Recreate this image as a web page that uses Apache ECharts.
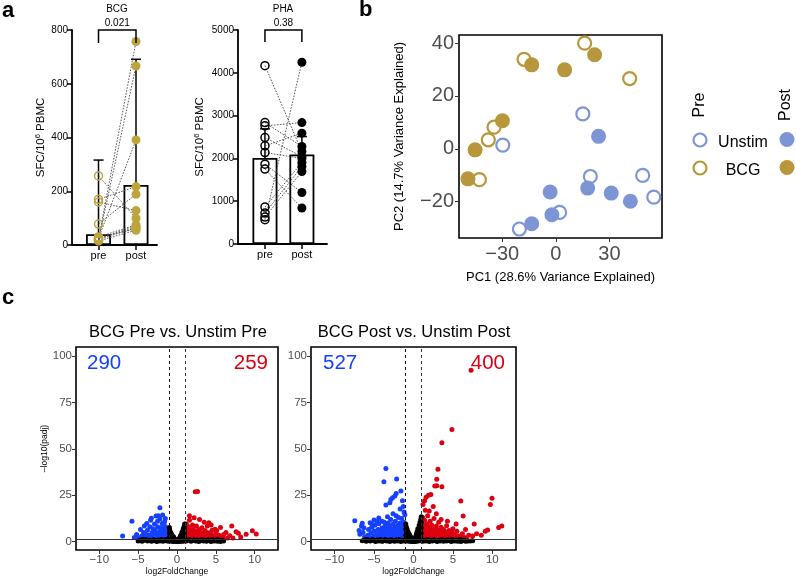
<!DOCTYPE html>
<html><head><meta charset="utf-8">
<script src="https://cdn.jsdelivr.net/npm/echarts@6/dist/echarts.min.js"></script>
<style>html,body{margin:0;padding:0;background:#fff}#c{width:796px;height:580px}</style>
</head><body><div id="c"></div><script>
// ---------- Panel a ----------
const groupsA = ['pre', 'post'];
const bcgPre  = [22, 18, 25, 257, 170, 160, 78, 20, 30, 15, 28, 24];
const bcgPost = [757, 666, 391, 100, 217, 128, 189, 65, 75, 55, 60, 70];
const bcgBar = [40, 223];
const bcgErr = [316, 691];
const bcgP = '0.021';
const phaPre  = [4166, 2837, 2760, 2487, 2293, 2137, 1866, 1750, 863, 723, 630, 567];
const phaPost = [2160, 2277, 2837, 2043, 2590, 2000, 1203, 840, 1903, 1810, 1693, 4246];
const phaBar = [2010, 2090];
const phaErr = [2690, 2510];
const phaP = '0.38';
// ---------- Panel b (PCA) ----------
const pcaXTicks = [-30, 0, 30];
const pcaYTicks = [-20, 0, 20, 40];
const unstimPre  = [[15.1,13.2],[-29.7,1.4],[19.3,-10.5],[48.6,-10.1],[54.8,-18.3],[2.1,-24.1],[-20.4,-30.4]];
const unstimPost = [[23.9,4.7],[-3.2,-16.4],[17.8,-14.9],[31.0,-16.8],[41.7,-19.9],[-2.2,-25.0],[-13.5,-28.4]];
const bcgPrePC   = [[-17.8,33.9],[16.1,40.0],[41.3,26.6],[-34.6,8.2],[-37.8,3.4],[-42.8,-11.7]];
const bcgPostPC  = [[-13.5,31.8],[4.9,29.9],[21.7,35.6],[-29.9,10.6],[-45.2,-0.4],[-49.2,-11.4]];
// ---------- Panel c (volcano) ----------
const volXTicks = [-10, -5, 0, 5, 10];
const volYTicks = [0, 25, 50, 75, 100];
const volTitles = ['BCG Pre vs. Unstim Pre', 'BCG Post vs. Unstim Post'];
const volDown = [290, 527];
const volUp = [259, 400];
const vol1Blue = [[-7.0,3.1],[-5.8,11],[-4.6,2.5],[-4.2,8.5],[-3.3,12.6],[-2.7,13.8],[-1.85,14.4],[-2.2,18.3],[-2.4,14],[-1.5,12.5],[-5.5,2.2],[-5.2,3.8],
 [-4.8,1.6],[-4.5,3.2],[-4.3,5],[-4.0,2],[-4.0,4],[-3.8,6.2],[-3.7,1.7],[-3.6,3.5],[-3.5,8],[-3.3,2.5],[-3.2,5],[-3.1,7],[-3.0,1.8],[-3.0,3.6],[-2.9,9.5],[-2.8,6],[-2.7,2.4],[-2.6,4.5],[-2.5,8],[-2.5,11],[-2.4,1.7],[-2.3,3.3],[-2.2,5.8],[-2.1,7.5],[-2.0,2.2],[-2.0,4.2],[-1.9,9.8],[-1.8,6.5],[-1.7,1.6],[-1.7,3.2],[-1.6,5],[-1.5,8.2],[-1.4,2.4],[-1.4,4],[-1.3,6.2],[-1.2,1.8],[-1.2,3],[-1.1,5],[-3.9,9.8],[-3.4,11.5],[-2.2,12.2],[-1.6,10.8],[-4.7,6.5],[-5.0,1.8],[-4.2,1.5]];
const vol1Red = [[2.35,26.9],[2.65,27.1],[1.6,14],[2.2,12.9],[4.1,10.2],[5.6,7.7],[7.05,8.5],[9.7,5.9],[10.2,4.1],[8.9,4.0],[7.6,5.4],[7.9,4.6],[6.3,4.9],[4.9,6.7],[6.8,3.2],[8.2,2.5],[5.9,2.4],[7.2,2.0],
 [1.1,2],[1.1,4.5],[1.2,7],[1.2,9.5],[1.3,3],[1.4,5.5],[1.5,1.6],[1.5,8],[1.6,11.5],[1.7,3.8],[1.8,6.2],[1.9,2.2],[2.0,4.5],[2.0,9],[2.1,7],[2.2,1.8],[2.3,3.5],[2.4,5.5],[2.5,8.5],[2.6,2.4],[2.7,4.2],[2.8,6.5],[2.9,1.7],[3.0,3.2],[3.1,5],[3.2,7.5],[3.3,2.2],[3.4,4],[3.6,6],[3.7,1.8],[3.8,3],[3.9,8.5],[4.0,4.8],[4.2,2.3],[4.4,3.8],[4.5,6.2],[4.6,1.7],[4.8,3],[5.0,4.5],[5.2,2],[5.4,3.4],[5.7,1.8],[3.5,10.5],[2.9,12],[4.4,9],[5.1,6],[6.0,3.8],[6.5,2]];
const vol1Black = [[-0.95,6.5],[-0.95,4.5],[-0.95,2.5],[-0.9,5.5],[-0.85,3.5],[-0.8,1.5],[-0.8,4.8],[-0.75,2.8],[-0.7,4],[-0.65,1.8],[-0.6,3.2],[-0.55,2.2],[-0.5,1],[-0.45,2.6],[-0.4,1.6],[-0.35,0.8],[-0.3,1.6],[-0.25,0.6],[-0.2,1],[-0.15,0.4],[-0.1,0.3],[-0.98,7.6],
 [0.98,9.5],[0.98,7],[0.98,4.5],[0.95,2.5],[0.9,8],[0.9,5.8],[0.85,3.5],[0.8,6.8],[0.8,1.5],[0.75,5],[0.7,3],[0.65,5.2],[0.6,2],[0.55,3.8],[0.5,1.2],[0.45,3],[0.4,2],[0.35,1],[0.3,1.8],[0.25,0.6],[0.2,1],[0.15,0.4],[0.1,0.3],
 [-5.0,0.4],[-4.7,0.9],[-4.5,0.2],[-4.2,0.7],[-4.0,1.1],[-3.8,0.3],[-3.5,0.8],[-3.3,0.2],[-3.0,1.0],[-2.8,0.5],[-2.6,0.1],[-2.4,0.9],[-2.2,0.4],[-2.0,1.1],[-1.8,0.2],[-1.6,0.7],[-1.4,1.1],[-1.3,0.3],[-1.1,0.8],[-1.0,0.2],[-0.9,0.9],[-0.7,0.3],[-0.5,0.1],[-0.3,0.2],[0,0.05],[0.3,0.15],[0.5,0.3],[0.7,0.2],[0.9,0.4],[1.0,1.0],[1.2,0.3],[1.4,0.8],[1.6,1.1],[1.8,0.2],[2.0,0.6],[2.2,1.0],[2.4,0.3],[2.6,0.8],[2.8,0.1],[3.0,0.5],[3.2,1.1],[3.4,0.3],[3.6,0.8],[3.8,0.2],[4.0,1.0],[4.2,0.5],[4.4,0.1],[4.6,0.8],[4.8,0.3],[5.0,0.9],[5.2,0.2],[5.4,0.6],[5.6,0.1],[5.8,0.7],[6.0,0.3],[5.3,1.1],[4.5,1.2],[-4.4,1.2],[-3.1,0.5],[-1.9,0.6]];
const vol2Blue = [[-3.5,39.5],[-3.75,32.3],[-2.14,33.8],[-1.6,27.3],[-2.36,24.6],[-2.65,23.7],[-2.87,22.8],[-1.4,22.1],[-3.5,19.8],[-3.0,21],[-1.7,17.6],[-7.45,11.3],[-6.5,9.9],[-6.6,8.5],[-5.5,10.2],[-5.0,11.7],[-4.4,12.8],[-3.3,13.5],[-6.4,5],[-6.2,2.7],[-2.2,26],[-1.3,19],
 [-6.0,1.8],[-5.8,3.5],[-5.7,6.5],[-5.5,2.2],[-5.4,4.8],[-5.3,7.8],[-5.1,1.6],[-5.0,3.2],[-5.0,5.8],[-4.9,8.8],[-4.7,2.5],[-4.6,4.2],[-4.5,6.5],[-4.4,9.6],[-4.3,1.8],[-4.2,3.3],[-4.1,5.2],[-4.0,7.4],[-4.0,11],[-3.9,2.4],[-3.8,4.1],[-3.7,6],[-3.6,8.4],[-3.6,1.6],[-3.5,3],[-3.4,5],[-3.3,7],[-3.2,10],[-3.2,2.2],[-3.1,3.8],[-3.0,5.8],[-3.0,8.5],[-2.9,12],[-2.9,1.7],[-2.8,3.1],[-2.7,4.6],[-2.7,6.8],[-2.6,9.4],[-2.6,15],[-2.5,2.3],[-2.4,3.8],[-2.4,5.5],[-2.3,7.6],[-2.3,11],[-2.2,1.6],[-2.1,3],[-2.1,4.6],[-2.0,6.4],[-2.0,8.8],[-1.9,13],[-1.9,2.2],[-1.8,3.7],[-1.8,5.3],[-1.7,7.2],[-1.7,10],[-1.6,1.7],[-1.6,3],[-1.5,4.5],[-1.5,6.3],[-1.5,12.5],[-1.4,8.5],[-1.3,2.3],[-1.3,3.8],[-1.3,5.6],[-1.2,7.5],[-1.2,10.5],[-1.15,1.6],[-1.1,3],[-1.1,4.6],[-1.1,14.5],[-1.2,16],[-2.2,14],[-3.7,10.5],[-4.6,11],[-5.2,9.2],[-6.8,4],[-6.9,6],[-6.3,7.5]];
const vol2Red = [[7.3,92.5],[4.87,60.5],[3.6,53.3],[3.1,39],[2.95,33.6],[2.7,30],[2.95,30.2],[3.6,29.6],[6.0,21.9],[6.3,13.8],[9.96,23.4],[9.75,20.1],[7.7,9.5],[9.4,6.3],[10.8,7.7],[11.2,8.4],[1.9,25],[2.2,25.5],[1.6,23.9],[1.4,22],[1.2,20],[2.5,19],[1.5,17],[8.6,3.5],[8.0,4.2],[7.5,3],[9.1,5.6],
 [1.05,2],[1.05,4.5],[1.1,7],[1.1,10],[1.15,13],[1.2,3.2],[1.3,5.6],[1.3,1.6],[1.4,8.4],[1.4,11.5],[1.5,2.6],[1.5,4.2],[1.6,6.5],[1.7,1.8],[1.7,9.5],[1.8,3.4],[1.8,14],[1.9,5.2],[2.0,7.6],[2.0,2.2],[2.1,11],[2.2,3.8],[2.2,6],[2.3,1.6],[2.3,9],[2.4,4.8],[2.5,2.8],[2.5,7.2],[2.6,12.5],[2.7,1.9],[2.7,5.5],[2.8,3.6],[2.9,8.4],[3.0,2.4],[3.0,6.4],[3.1,4.4],[3.2,10.5],[3.3,1.7],[3.3,3.2],[3.4,5.6],[3.5,7.8],[3.6,2.5],[3.7,4.3],[3.8,6.6],[3.9,1.8],[4.0,3.5],[4.1,5.2],[4.2,8.6],[4.3,2.4],[4.4,4],[4.5,6],[4.6,1.7],[4.8,3],[4.9,4.8],[5.0,7],[5.2,2.2],[5.3,3.8],[5.5,5.6],[5.6,1.8],[5.8,3],[6.0,2],[6.2,4.2],[6.4,2.4],[6.7,1.8],[7.0,3.4],[3.5,12],[4.3,11],[2.0,16.5],[5.4,9.5],[6.6,6.5],[2.9,15]];
const vol2Black = [[-0.98,9.5],[-0.98,6.5],[-0.98,3.5],[-0.92,8],[-0.9,5],[-0.88,2.2],[-0.82,6.8],[-0.8,4],[-0.75,1.5],[-0.72,5.5],[-0.68,3],[-0.62,4.5],[-0.58,1.8],[-0.52,3.8],[-0.48,2.6],[-0.42,1.2],[-0.38,2.8],[-0.32,1.8],[-0.28,0.8],[-0.22,1.5],[-0.18,0.6],[-0.12,0.8],[-0.08,0.3],
 [0.98,13.5],[0.98,10.5],[0.98,7.5],[0.98,4.5],[0.95,2],[0.92,12],[0.9,9],[0.88,6],[0.85,3.5],[0.82,10.5],[0.8,7.5],[0.78,1.5],[0.75,5],[0.72,8.8],[0.68,3],[0.65,6.8],[0.6,4.8],[0.58,1.8],[0.55,7],[0.5,3.6],[0.46,5.5],[0.42,2.2],[0.38,4.2],[0.34,1.2],[0.3,3],[0.26,2],[0.22,1],[0.18,1.8],[0.14,0.8],[0.1,0.5],[0.06,0.2],
 [-6.5,0.5],[-6.2,1.0],[-6.0,0.2],[-5.7,0.8],[-5.5,0.3],[-5.2,1.1],[-5.0,0.5],[-4.8,0.1],[-4.6,0.9],[-4.4,0.4],[-4.2,1.2],[-4.0,0.2],[-3.8,0.7],[-3.6,1.1],[-3.4,0.3],[-3.2,0.8],[-3.0,0.1],[-2.8,1.0],[-2.6,0.5],[-2.4,0.2],[-2.2,0.9],[-2.0,0.4],[-1.8,1.2],[-1.6,0.1],[-1.4,0.7],[-1.2,0.3],[-1.0,1.0],[-0.9,0.4],[-0.6,0.2],[-0.3,0.1],[0,0.05],[0.3,0.1],[0.6,0.3],[0.9,0.5],[1.0,1.1],[1.2,0.2],[1.4,0.8],[1.6,0.4],[1.8,1.2],[2.0,0.1],[2.2,0.7],[2.4,0.3],[2.6,1.0],[2.8,0.5],[3.0,0.1],[3.2,0.8],[3.4,0.4],[3.6,1.1],[3.8,0.2],[4.0,0.7],[4.2,0.3],[4.4,1.0],[4.6,0.5],[4.8,0.1],[5.0,0.8],[5.2,0.3],[5.4,0.9],[5.6,0.2],[5.8,0.6],[6.0,0.1],[6.2,0.5],[6.4,0.9],[6.6,0.2],[6.9,0.4],[7.2,0.3],[7.5,0.5],[5.9,1.1],[4.9,1.2],[-5.9,1.2],[-3.9,0.4],[-2.1,0.7]];
const padjCut = 1.3;
const fcCut = 1;

// ---------- styles ----------
const FONT = '"Liberation Sans", Arial, Helvetica, sans-serif';
const GOLD_A = '#BDA53C';
const GOLD_B = '#B8963B';
const BLUE_B = '#7D95D5';
const BLUE_C = '#1540FF';
const RED_C = '#DD0010';
const minus = v => (v < 0 ? '\u2212' + Math.abs(v) : String(v));

const chart = echarts.init(document.getElementById('c'), null, {renderer: 'canvas'});

function aXAxis(gi, min, max) {
  return {gridIndex: gi, type: 'value', min: min, max: max, splitLine: {show: false},
    axisLine: {show: true, onZero: false, lineStyle: {color: '#000', width: 1.8}},
    axisTick: {show: true, customValues: [0, 1], length: 5, lineStyle: {color: '#000', width: 1.5}},
    axisLabel: {show: true, customValues: [0, 1], formatter: v => groupsA[Math.round(v)], color: '#000', fontSize: 11, fontFamily: FONT, margin: 5}};
}
function aYAxis(gi, max, interval, gap) {
  return {gridIndex: gi, type: 'value', min: 0, max: max, interval: interval, splitLine: {show: false},
    axisLine: {show: true, onZero: false, lineStyle: {color: '#000', width: 1.8}},
    axisTick: {show: true, length: 5, lineStyle: {color: '#000', width: 1.5}},
    axisLabel: {color: '#000', fontSize: 10, fontFamily: FONT, margin: 4, formatter: v => String(v)},
    name: '{n|SFC/10}{s|6}{n| PBMC}', nameLocation: 'middle', nameGap: gap,
    nameTextStyle: {rich: {n: {fontSize: 11.5, fontFamily: FONT, color: '#000'}, s: {fontSize: 7.5, fontFamily: FONT, color: '#000', verticalAlign: 'top', padding: [0, 0, 6, 0]}}}};
}
function aSeries(gi, pre, post, bar, err, color, pTop, pEnd, pText) {
  return [
    {type: 'bar', xAxisIndex: gi, yAxisIndex: gi, barWidth: 25, data: [[0, bar[0]], [1, bar[1]]],
      itemStyle: {color: 'rgba(255,255,255,0)', borderColor: '#000', borderWidth: 1.8}, z: 1, silent: true},
    {type: 'custom', xAxisIndex: gi, yAxisIndex: gi, z: 2, silent: true,
      data: [[0, bar[0], err[0]], [1, bar[1], err[1]]], encode: {x: 0, y: [1, 2]},
      renderItem: (p, api) => {
        const b = api.coord([api.value(0), api.value(1)]);
        const t = api.coord([api.value(0), api.value(2)]);
        return {type: 'group', children: [
          {type: 'line', shape: {x1: b[0], y1: b[1], x2: t[0], y2: t[1]}, style: {stroke: '#000', lineWidth: 1.5}},
          {type: 'line', shape: {x1: t[0] - 5, y1: t[1], x2: t[0] + 5, y2: t[1]}, style: {stroke: '#000', lineWidth: 1.5}}]};
      }},
    {type: 'custom', xAxisIndex: gi, yAxisIndex: gi, z: 3, silent: true,
      data: pre.map((v, i) => [0, v, 1, post[i]]), encode: {x: [0, 2], y: [1, 3]},
      renderItem: (p, api) => {
        const a = api.coord([api.value(0), api.value(1)]);
        const b = api.coord([api.value(2), api.value(3)]);
        return {type: 'line', shape: {x1: a[0], y1: a[1], x2: b[0], y2: b[1]}, style: {stroke: '#444', lineWidth: 0.9, lineDash: [1.6, 1.4]}};
      }},
    {type: 'scatter', xAxisIndex: gi, yAxisIndex: gi, z: 4, silent: true, symbol: 'circle', symbolSize: 8,
      data: pre.map(v => [0, v]), itemStyle: {color: 'rgba(255,255,255,0)', borderColor: color, borderWidth: 1.5, opacity: 1}},
    {type: 'scatter', xAxisIndex: gi, yAxisIndex: gi, z: 4, silent: true, symbol: 'circle', symbolSize: 9,
      data: post.map(v => [1, v]), itemStyle: {color: color, opacity: 1}},
    {type: 'custom', xAxisIndex: gi, yAxisIndex: gi, z: 5, silent: true, clip: false,
      data: [[0, 1, pTop, pEnd]], encode: {x: [0, 1], y: [2, 3]},
      renderItem: (p, api) => {
        const a = api.coord([api.value(0), api.value(3)]);
        const b = api.coord([api.value(0), api.value(2)]);
        const c = api.coord([api.value(1), api.value(2)]);
        const d = api.coord([api.value(1), api.value(3)]);
        return {type: 'group', children: [
          {type: 'polyline', shape: {points: [a, b, c, d]}, style: {stroke: '#000', lineWidth: 1.5, fill: null}},
          {type: 'text', x: (b[0] + c[0]) / 2, y: b[1] - 7, style: {text: pText, fill: '#000', font: '10px ' + FONT, align: 'center', verticalAlign: 'middle'}}]};
      }}
  ];
}

function boxAxis(gi, min, max, ticks, fs, name, gap, nfs, margin) {
  return {gridIndex: gi, type: 'value', min: min, max: max, splitLine: {show: false},
    axisLine: {show: false, onZero: false}, axisTick: {show: true, customValues: ticks, length: 4, lineStyle: {color: '#333', width: 1}},
    axisLabel: {show: true, customValues: ticks, formatter: minus, color: '#4D4D4D', fontSize: fs, fontFamily: FONT, margin: margin},
    name: name, nameLocation: 'middle', nameGap: gap, nameTextStyle: {color: '#000', fontSize: nfs, fontFamily: FONT}};
}
function volSeries(gi, blue, red, black) {
  const base = {type: 'scatter', xAxisIndex: gi, yAxisIndex: gi, symbol: 'circle', symbolSize: 5, silent: true};
  return [
    Object.assign({}, base, {data: blue, itemStyle: {color: BLUE_C, opacity: 1}, z: 2}),
    Object.assign({}, base, {data: red, itemStyle: {color: RED_C, opacity: 1}, z: 2}),
    Object.assign({}, base, {data: black, itemStyle: {color: '#000', opacity: 1}, z: 3,
      markLine: {silent: true, symbol: 'none', label: {show: false}, animation: false,
        data: [{yAxis: padjCut, lineStyle: {color: '#333', width: 1, type: 'solid'}},
               {xAxis: -fcCut, lineStyle: {color: '#111', width: 1, type: [3, 3]}},
               {xAxis: fcCut, lineStyle: {color: '#333', width: 1, type: [3, 3]}}]}})
  ];
}
function pcaSeries(data, color, open) {
  return {type: 'scatter', xAxisIndex: 2, yAxisIndex: 2, symbol: 'circle', silent: true,
    symbolSize: open ? 13 : 15, data: data,
    itemStyle: open ? {color: 'rgba(255,255,255,0)', borderColor: color, borderWidth: 2.2, opacity: 1} : {color: color, opacity: 1}, z: 3};
}

const boxGrid = {show: true, borderColor: '#000', borderWidth: 1.6, backgroundColor: 'rgba(0,0,0,0)'};
const option = {
  animation: false,
  backgroundColor: '#fff',
  textStyle: {fontFamily: FONT},
  grid: [
    {left: 72, top: 30, width: 85, height: 215},
    {left: 238, top: 30, width: 89, height: 214},
    Object.assign({left: 459, top: 35, width: 203, height: 203}, boxGrid),
    Object.assign({left: 76, top: 347, width: 202, height: 203}, boxGrid),
    Object.assign({left: 311, top: 347, width: 205, height: 203}, boxGrid)
  ],
  xAxis: [
    aXAxis(0, -0.707, 1.56),
    aXAxis(1, -0.73, 1.68),
    boxAxis(2, -54.2, 59.4, pcaXTicks, 20, 'PC1 (28.6% Variance Explained)', 33, 13, 6),
    boxAxis(3, -13, 13, volXTicks, 11.5, 'log2FoldChange', 16, 8.5, 4),
    boxAxis(4, -13, 13, volXTicks, 11.5, 'log2FoldChange', 16, 8.5, 4)
  ],
  yAxis: [
    aYAxis(0, 800, 200, 24),
    aYAxis(1, 5000, 1000, 31),
    boxAxis(2, -33.8, 43.1, pcaYTicks, 20, 'PC2 (14.7% Variance Explained)', 53, 13, 5),
    boxAxis(3, -4.5, 105, volYTicks, 11.5, '\u2013log10(padj)', 24, 8.5, 4),
    boxAxis(4, -4.5, 105, volYTicks, 11.5, '', 24, 8.5, 4)
  ],
  series: [].concat(
    aSeries(0, bcgPre, bcgPost, bcgBar, bcgErr, GOLD_A, 800, 752, bcgP),
    aSeries(1, phaPre, phaPost, phaBar, phaErr, '#000', 5000, 4720, phaP),
    [pcaSeries(unstimPre, BLUE_B, true), pcaSeries(unstimPost, BLUE_B, false),
     pcaSeries(bcgPrePC, GOLD_B, true), pcaSeries(bcgPostPC, GOLD_B, false)],
    volSeries(3, vol1Blue, vol1Red, vol1Black),
    volSeries(4, vol2Blue, vol2Red, vol2Black)
  ),
  graphic: [
    {type: 'text', x: 2, y: 11, style: {text: 'a', font: 'bold 22px ' + FONT, fill: '#000', verticalAlign: 'middle'}},
    {type: 'text', x: 359, y: 10, style: {text: 'b', font: 'bold 22px ' + FONT, fill: '#000', verticalAlign: 'middle'}},
    {type: 'text', x: 2, y: 298, style: {text: 'c', font: 'bold 22px ' + FONT, fill: '#000', verticalAlign: 'middle'}},
    {type: 'text', x: 117, y: 9, style: {text: 'BCG', font: '10px ' + FONT, fill: '#000', align: 'center', verticalAlign: 'middle'}},
    {type: 'text', x: 283, y: 9, style: {text: 'PHA', font: '10px ' + FONT, fill: '#000', align: 'center', verticalAlign: 'middle'}},
    // PCA legend
    {type: 'text', x: 700, y: 105, rotation: Math.PI / 2, style: {text: 'Pre', font: '16px ' + FONT, fill: '#000', align: 'center', verticalAlign: 'middle'}},
    {type: 'text', x: 786, y: 105, rotation: Math.PI / 2, style: {text: 'Post', font: '16px ' + FONT, fill: '#000', align: 'center', verticalAlign: 'middle'}},
    {type: 'circle', shape: {cx: 700, cy: 140, r: 6.5}, style: {fill: 'none', stroke: BLUE_B, lineWidth: 2.2}},
    {type: 'circle', shape: {cx: 700, cy: 168, r: 6.5}, style: {fill: 'none', stroke: GOLD_B, lineWidth: 2.2}},
    {type: 'circle', shape: {cx: 787, cy: 139.5, r: 7.5}, style: {fill: BLUE_B}},
    {type: 'circle', shape: {cx: 787, cy: 167.5, r: 7.5}, style: {fill: GOLD_B}},
    {type: 'text', x: 743, y: 143, style: {text: 'Unstim', font: '16px ' + FONT, fill: '#000', align: 'center', verticalAlign: 'middle'}},
    {type: 'text', x: 743, y: 171, style: {text: 'BCG', font: '16px ' + FONT, fill: '#000', align: 'center', verticalAlign: 'middle'}},
    // volcano titles and counts
    {type: 'text', x: 178, y: 332, style: {text: volTitles[0], font: '16.5px ' + FONT, fill: '#000', align: 'center', verticalAlign: 'middle'}},
    {type: 'text', x: 414, y: 332, style: {text: volTitles[1], font: '16.5px ' + FONT, fill: '#000', align: 'center', verticalAlign: 'middle'}},
    {type: 'text', x: 87, y: 363, style: {text: String(volDown[0]), font: '20.5px ' + FONT, fill: BLUE_C, align: 'left', verticalAlign: 'middle'}},
    {type: 'text', x: 268, y: 363, style: {text: String(volUp[0]), font: '20.5px ' + FONT, fill: RED_C, align: 'right', verticalAlign: 'middle'}},
    {type: 'text', x: 323, y: 363, style: {text: String(volDown[1]), font: '20.5px ' + FONT, fill: BLUE_C, align: 'left', verticalAlign: 'middle'}},
    {type: 'text', x: 505, y: 363, style: {text: String(volUp[1]), font: '20.5px ' + FONT, fill: RED_C, align: 'right', verticalAlign: 'middle'}}
  ]
};
chart.setOption(option);
</script></body></html>
